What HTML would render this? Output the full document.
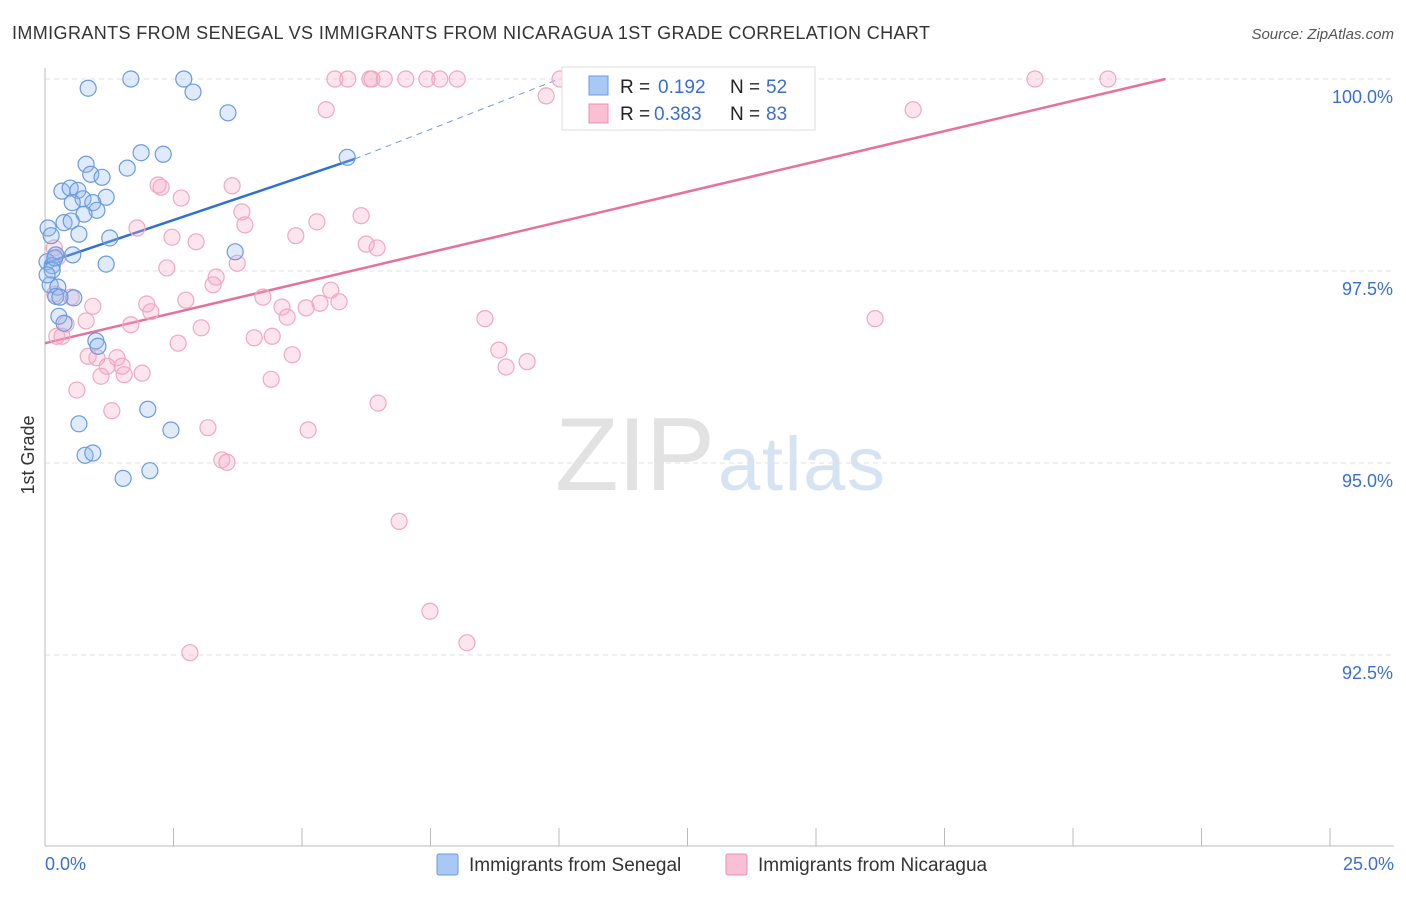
<!DOCTYPE html>
<html><head><meta charset="utf-8"><style>
body{margin:0;background:#fff;font-family:"Liberation Sans",sans-serif;}
svg text{font-family:"Liberation Sans",sans-serif;}
</style></head><body>
<svg id="chart" width="1406" height="892" viewBox="0 0 1406 892">
<text x="12" y="39" font-size="18" fill="#333" textLength="918">IMMIGRANTS FROM SENEGAL VS IMMIGRANTS FROM NICARAGUA 1ST GRADE CORRELATION CHART</text>
<text x="1394" y="39" font-size="15" fill="#555" font-style="italic" text-anchor="end">Source: ZipAtlas.com</text>
<text x="555" y="490" font-size="104" fill="#e2e2e2" textLength="160" font-family="Liberation Serif">ZIP</text>
<text x="718" y="490" font-size="76" fill="#d6e3f3" textLength="167">atlas</text>
<g id="grid"></g><g id="axes"></g><g id="trends"></g><g id="pts"></g>
<text x="34" y="455" font-size="18" fill="#333" text-anchor="middle" transform="rotate(-90 34 455)">1st Grade</text>
<text x="45" y="870" font-size="18" fill="#3a6fd0">0.0%</text>
<text x="1394" y="870" font-size="18" fill="#3a6fd0" text-anchor="end">25.0%</text>
<g>
<rect x="562" y="67" width="253" height="63" fill="#fff" stroke="#ddd"/>
<rect x="589" y="76" width="19" height="19" fill="#a9c8f3" stroke="#6a9be0"/>
<text x="620" y="93" font-size="19" fill="#222">R =</text>
<text x="658" y="93" font-size="19" fill="#3a6fd0">0.192</text>
<text x="730" y="93" font-size="19" fill="#222">N =</text>
<text x="766" y="93" font-size="19" fill="#3a6fd0">52</text>
<rect x="589" y="104" width="19" height="19" fill="#f8c0d2" stroke="#e892ae"/>
<text x="620" y="120" font-size="19" fill="#222">R =</text>
<text x="654" y="120" font-size="19" fill="#3a6fd0">0.383</text>
<text x="730" y="120" font-size="19" fill="#222">N =</text>
<text x="766" y="120" font-size="19" fill="#3a6fd0">83</text>
</g>
<g>
<rect x="437" y="854" width="21" height="21" fill="#a9c8f3" stroke="#6a9be0" rx="2"/>
<text x="469" y="871" font-size="19" fill="#333">Immigrants from Senegal</text>
<rect x="726" y="854" width="21" height="21" fill="#f8c0d2" stroke="#e892ae" rx="2"/>
<text x="758" y="871" font-size="19" fill="#333">Immigrants from Nicaragua</text>
</g>
</svg>
<script>
const yTicks=[100,97.5,95,92.5];
const yTickLabels=["100.0%","97.5%","95.0%","92.5%"];
const xTicks=[0,2.5,5,7.5,10,12.5,15,17.5,20,22.5,25];
const senX=[0.84,1.67,2.70,2.88,3.56,1.87,2.30,1.60,0.80,0.89,1.11,0.33,0.49,0.64,1.19,0.74,0.53,0.93,1.01,0.76,0.37,0.51,0.06,0.12,0.66,1.26,3.70,0.21,0.54,0.04,0.14,1.19,0.14,0.10,0.25,0.21,0.56,0.27,0.37,0.99,1.03,2.00,0.66,2.45,0.78,0.93,1.52,2.04,5.88,0.04,0.29,0.19];
const senY=[99.88,100,100,99.83,99.56,99.04,99.02,98.84,98.89,98.76,98.72,98.54,98.58,98.55,98.46,98.44,98.39,98.39,98.29,98.24,98.13,98.15,98.06,97.96,97.98,97.93,97.75,97.71,97.71,97.62,97.57,97.59,97.51,97.32,97.29,97.17,97.15,96.91,96.82,96.59,96.52,95.70,95.51,95.43,95.10,95.13,94.80,94.90,98.98,97.45,97.16,97.67];
const nicX=[5.64,5.89,6.32,6.36,6.60,7.02,7.43,7.68,8.02,10.02,11.93,19.26,20.68,9.75,5.47,16.89,2.20,2.26,3.64,2.65,3.83,3.89,6.15,5.29,1.79,2.47,2.94,4.88,6.25,6.46,0.18,0.25,3.74,2.37,3.33,3.27,5.56,4.24,2.74,1.98,2.06,5.72,5.35,5.08,4.61,4.71,0.93,0.51,0.19,16.15,8.56,0.80,1.67,0.41,0.33,0.23,3.04,4.42,4.07,2.59,4.81,8.83,9.38,8.97,0.84,1.01,1.40,1.50,1.21,1.54,1.89,1.09,4.40,0.62,6.48,1.30,3.17,5.12,3.44,3.54,6.89,7.49,8.21,2.82];
const nicY=[100,100,100,100,100,100,100,100,100,100,100,100,100,99.78,99.60,99.60,98.62,98.59,98.61,98.45,98.27,98.10,98.22,98.14,98.06,97.94,97.88,97.96,97.85,97.80,97.80,97.68,97.60,97.54,97.42,97.32,97.25,97.16,97.12,97.07,96.97,97.10,97.08,97.02,97.03,96.90,97.04,97.16,97.20,96.88,96.88,96.85,96.80,96.81,96.65,96.65,96.76,96.65,96.63,96.56,96.41,96.47,96.32,96.25,96.39,96.37,96.37,96.26,96.26,96.15,96.17,96.13,96.09,95.95,95.78,95.68,95.46,95.43,95.04,95.01,94.24,93.07,92.66,92.53];
const senTrend=[0,97.60,6.03,98.96,10.0,100.0];
const nicTrend=[0,96.56,21.8,100.0];
const X=v=>45+v*51.4, Y=v=>79+(100-v)*76.8;
const NS="http://www.w3.org/2000/svg";
function mk(tag,at,parent){const e=document.createElementNS(NS,tag);for(const k in at)e.setAttribute(k,at[k]);document.getElementById(parent).appendChild(e);return e;}
yTicks.forEach((t,i)=>{
 const l=mk('line',{x1:45,x2:1394,y1:Y(t),y2:Y(t),stroke:'#e2e2e2','stroke-dasharray':'5,4'},'grid');
 
 
 const tx=mk('text',{x:1393,y:Y(t)+24,'font-size':18,fill:'#3a6fd0','text-anchor':'end'},'grid');
 tx.textContent=yTickLabels[i];
 
 
});
const ax=mk('line',{x1:45,x2:45,y1:68,y2:846,stroke:'#bbb'},'axes');


const bx=mk('line',{x1:45,x2:1394,y1:846,y2:846,stroke:'#bbb'},'axes');


xTicks.forEach(t=>{
 const l=mk('line',{x1:X(t),x2:X(t),y1:828,y2:846,stroke:'#bbb'},'axes');
 
 
});
let tl=mk('line',{x1:X(senTrend[0]),y1:Y(senTrend[1]),x2:X(senTrend[2]),y2:Y(senTrend[3]),stroke:'#2f6fd6','stroke-width':2.5},'trends');


tl=mk('line',{x1:X(senTrend[2]),y1:Y(senTrend[3]),x2:X(senTrend[4]),y2:Y(senTrend[5]),stroke:'#6a9be0','stroke-width':1,'stroke-dasharray':'6,5'},'trends');


tl=mk('line',{x1:X(nicTrend[0]),y1:Y(nicTrend[1]),x2:X(nicTrend[2]),y2:Y(nicTrend[3]),stroke:'#e8709a','stroke-width':2.5},'trends');


nicX.forEach((v,i)=>{
 const c=mk('circle',{cx:X(v),cy:Y(nicY[i]),r:8,fill:'rgba(244,170,196,0.3)',stroke:'#f0a8c0','stroke-width':1.2},'pts');
 
 
});
senX.forEach((v,i)=>{
 const c=mk('circle',{cx:X(v),cy:Y(senY[i]),r:8,fill:'rgba(150,185,240,0.3)',stroke:'#6b9be0','stroke-width':1.2},'pts');
 
 
});
</script>
</body></html>
